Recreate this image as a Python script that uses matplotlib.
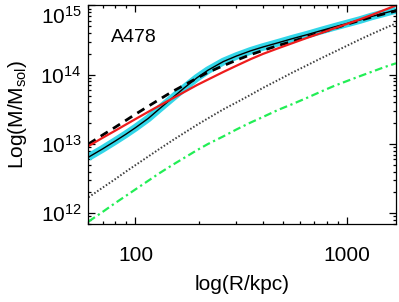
import numpy as np
import matplotlib
matplotlib.use("Agg")
import matplotlib.pyplot as plt

plt.rcParams['font.family'] = ['Liberation Sans', 'DejaVu Sans']
plt.rcParams['mathtext.fontset'] = 'custom'
plt.rcParams['mathtext.rm'] = 'Liberation Sans'
plt.rcParams['mathtext.it'] = 'Liberation Sans:italic'
plt.rcParams['mathtext.bf'] = 'Liberation Sans:bold'

# radius grid (kpc) and log10 mass profiles
radius = [60, 70, 80, 90, 100, 115, 130, 150, 170, 195, 220, 260, 300,
          350, 400, 470, 550, 650, 750, 870, 1000, 1150, 1300, 1500, 1700]
log_m_fit = [12.81, 12.93, 13.04, 13.14, 13.235, 13.37, 13.51, 13.67, 13.81,
             13.955, 14.065, 14.19, 14.27, 14.345, 14.40, 14.46, 14.52, 14.58,
             14.635, 14.69, 14.74, 14.79, 14.84, 14.89, 14.935]
log_m_dash = [13.00, 13.13, 13.24, 13.34, 13.43, 13.545, 13.645, 13.76, 13.85,
              13.95, 14.035, 14.13, 14.21, 14.29, 14.35, 14.42, 14.48, 14.55,
              14.61, 14.67, 14.73, 14.785, 14.83, 14.88, 14.92]
log_m_red = [12.97, 13.09, 13.19, 13.28, 13.36, 13.465, 13.555, 13.66, 13.75,
             13.85, 13.93, 14.04, 14.13, 14.225, 14.30, 14.38, 14.455, 14.535,
             14.60, 14.67, 14.735, 14.80, 14.86, 14.935, 15.0]
log_m_dot = [12.23, 12.37, 12.49, 12.60, 12.695, 12.82, 12.93, 13.055, 13.16,
             13.275, 13.37, 13.50, 13.60, 13.71, 13.81, 13.92, 14.03, 14.14,
             14.235, 14.33, 14.42, 14.51, 14.585, 14.67, 14.74]
log_m_green = [11.88, 12.02, 12.145, 12.25, 12.345, 12.47, 12.58, 12.70, 12.80,
               12.91, 13.00, 13.11, 13.21, 13.31, 13.39, 13.49, 13.575, 13.67,
               13.755, 13.84, 13.91, 13.98, 14.04, 14.11, 14.165]

ytick_vals = [1e12, 1e13, 1e14, 1e15]
ytick_labels = [r'$\mathdefault{10^{12}}$', r'$\mathdefault{10^{13}}$',
                r'$\mathdefault{10^{14}}$', r'$\mathdefault{10^{15}}$']
xtick_vals = [100, 1000]
xtick_labels = ['100', '1000']
cluster = 'A478'

r = np.array(radius)
def m(v):
    return 10 ** np.array(v)

fig = plt.figure(figsize=(3.99, 3.02), dpi=100)
ax = fig.add_axes([0.2218, 0.2583, 0.7707, 0.7237])

ax.plot(r, m(log_m_fit), color='#33d6e8', lw=5.5, solid_capstyle='butt')
ax.plot(r, m(log_m_fit), color='black', lw=1.0)
ax.plot(r, m(log_m_dash), color='black', lw=2.0, dashes=(3.0, 2.2))
ax.plot(r, m(log_m_red), color='#ee1c1c', lw=1.6)
ax.plot(r, m(log_m_dot), color='#404040', lw=1.4, dashes=(0.8, 1.0))
ax.plot(r, m(log_m_green), color='#22ee55', lw=1.6, dashes=(3.5, 1.6, 1.0, 1.6))

ax.set_xscale('log')
ax.set_yscale('log')
ax.set_xlim(60, 1700)
ax.set_ylim(7e11, 1e15)

ax.set_yticks(ytick_vals)
ax.set_yticklabels(ytick_labels)
ax.set_xticks(xtick_vals)
ax.set_xticklabels(xtick_labels)

ax.tick_params(which='both', direction='in', top=True, right=True, width=0.9)
ax.tick_params(which='major', length=5, labelsize=15)
ax.tick_params(axis='x', which='major', pad=16)
ax.tick_params(axis='y', which='major', pad=5)
ax.tick_params(which='minor', length=2.5)
for s in ax.spines.values():
    s.set_linewidth(0.9)

ax.get_yticklabels()[-1].set_va('top')

ax.text(0.073, 0.833, cluster, transform=ax.transAxes, fontsize=14,
        ha='left', va='baseline')

ax.set_xlabel('log(R/kpc)', fontsize=15, labelpad=7)
ax.set_ylabel(r'Log(M/M$_{\mathrm{sol}}$)', fontsize=15, labelpad=8)

fig.savefig('out.png', dpi=100)
